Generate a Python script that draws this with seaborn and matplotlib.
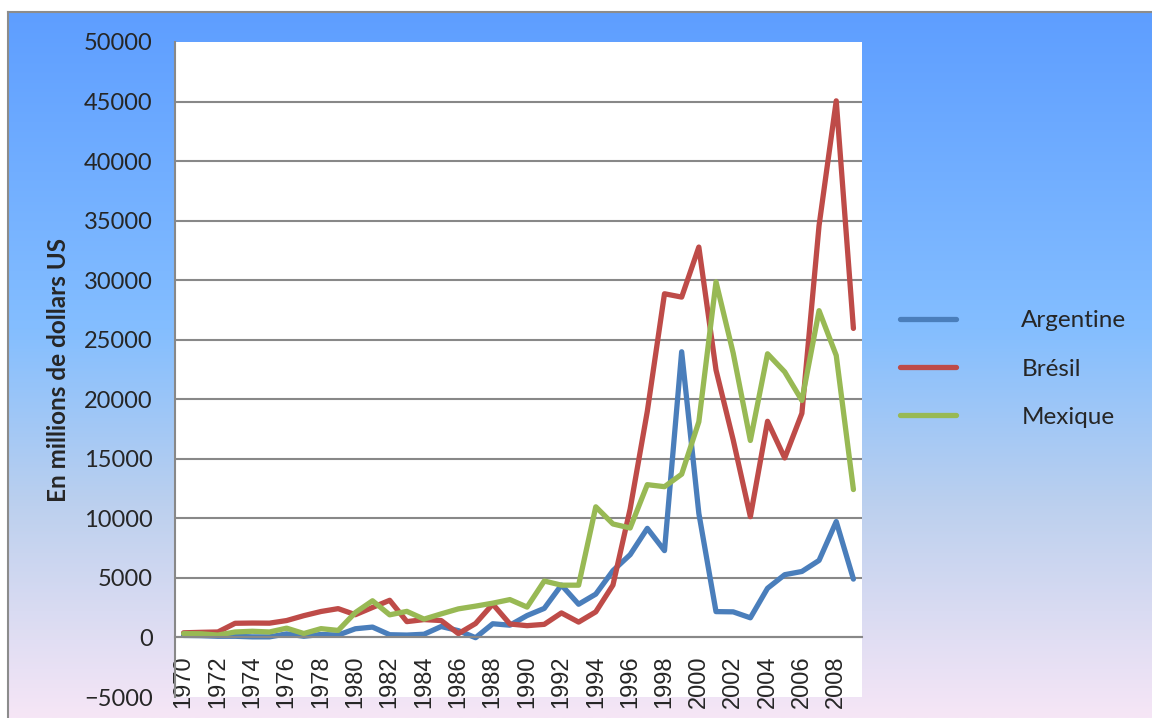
import numpy as np
import pandas as pd
import matplotlib
matplotlib.use("Agg")
import matplotlib.pyplot as plt
from matplotlib.colors import LinearSegmentedColormap
import seaborn as sns

years = list(range(1970, 2010))
argentine = [170, 150, 100, 100, 50, 50, 300, 100, 250, 200,
             730, 870, 230, 200, 270, 920, 570, -20, 1150, 1030,
             1840, 2440, 4400, 2790, 3640, 5610, 6950, 9160, 7290, 23990,
             10420, 2170, 2150, 1650, 4130, 5270, 5540, 6470, 9730, 4900]
bresil = [390, 430, 460, 1190, 1210, 1200, 1420, 1830, 2180, 2420,
          1910, 2520, 3120, 1330, 1500, 1420, 320, 1170, 2800, 1130,
          990, 1100, 2060, 1290, 2150, 4400, 10790, 18990, 28860, 28580,
          32780, 22460, 16590, 10140, 18150, 15070, 18820, 34590, 45060, 25950]
mexique = [320, 310, 200, 460, 520, 460, 780, 330, 740, 590,
           2090, 3080, 1900, 2190, 1540, 1980, 2400, 2630, 2880, 3180,
           2550, 4740, 4390, 4390, 10970, 9530, 9190, 12830, 12660, 13710,
           18110, 29860, 23880, 16540, 23820, 22300, 19900, 27440, 23680, 12420]
countries = ["Argentine", "Brésil", "Mexique"]
colors = ["#4A7EBB", "#BE4B48", "#98B954"]

df = pd.DataFrame({
    "idx": list(range(len(years))) * 3,
    "value": argentine + bresil + mexique,
    "pays": [c for c in countries for _ in years],
})

sns.set_style("white")
plt.rcParams["font.family"] = ["Lato", "DejaVu Sans"]

W, H = 1152, 718
fig = plt.figure(figsize=(W / 100, H / 100), dpi=100)
fig.patch.set_facecolor("white")

# gradient background of the chart area
bg = fig.add_axes([8 / W, 0, 1 - 8 / W, (H - 12) / H])
grad_cmap = LinearSegmentedColormap.from_list(
    "bg", [(0.0, "#5E9EFF"), (0.45, "#84BEFF"), (0.7, "#BCD0EE"), (1.0, "#F6E6F6")])
bg.imshow(np.linspace(0, 1, 256).reshape(-1, 1), aspect="auto", cmap=grad_cmap,
          extent=[0, 1, 0, 1])
bg.set_xticks([])
bg.set_yticks([])
for side in ["right", "bottom"]:
    bg.spines[side].set_visible(False)
for side in ["left", "top"]:
    bg.spines[side].set_color("#8C8C8C")
    bg.spines[side].set_linewidth(1.5)

ax = fig.add_axes([175 / W, (H - 697) / H, 687 / W, 655 / H])
ax.set_facecolor("white")
sns.lineplot(data=df, x="idx", y="value", hue="pays", palette=colors,
             linewidth=3.8, ax=ax, legend=False)

# x axis crosses at 0 (moving the spine resets the ticks, so do it first)
ax.spines["bottom"].set_position(("data", 0))
ax.spines["bottom"].set_color("#888888")
ax.spines["bottom"].set_linewidth(1.5)
ax.spines["left"].set_color("#888888")
ax.spines["left"].set_linewidth(1.5)
ax.spines["top"].set_visible(False)
ax.spines["right"].set_visible(False)

ax.set_xlim(-0.5, len(years) - 0.5)
ax.set_ylim(-5000, 50000)
ax.set_yticks(range(-5000, 50001, 5000))
ax.tick_params(axis="y", length=0, pad=16, labelsize=17)
ax.yaxis.grid(True, color="#888888", linewidth=1.5)
gl = ax.get_ygridlines()
gl[0].set_visible(False)
gl[-1].set_visible(False)

ax.set_xticks(range(0, len(years), 2))
ax.set_xticklabels([str(y) for y in years[::2]], rotation=90,
                   family="Liberation Sans", fontsize=17)
ax.tick_params(axis="x", length=0, pad=13)
ax.set_xlabel("")
ax.set_ylabel("En millions de dollars US", fontsize=17.5, fontweight="bold")
ax.yaxis.set_label_coords(-0.153, 0.5)

handles = [plt.Line2D([], [], color=c, linewidth=3.8, solid_capstyle="round")
           for c in colors]
fig.legend(handles, countries, loc="center left",
           bbox_to_anchor=(878 / W, 1 - 369 / H), frameon=False,
           fontsize=17.5, handlelength=2.3, handletextpad=2.7, labelspacing=1.13)

fig.savefig("out.png", dpi=100)
